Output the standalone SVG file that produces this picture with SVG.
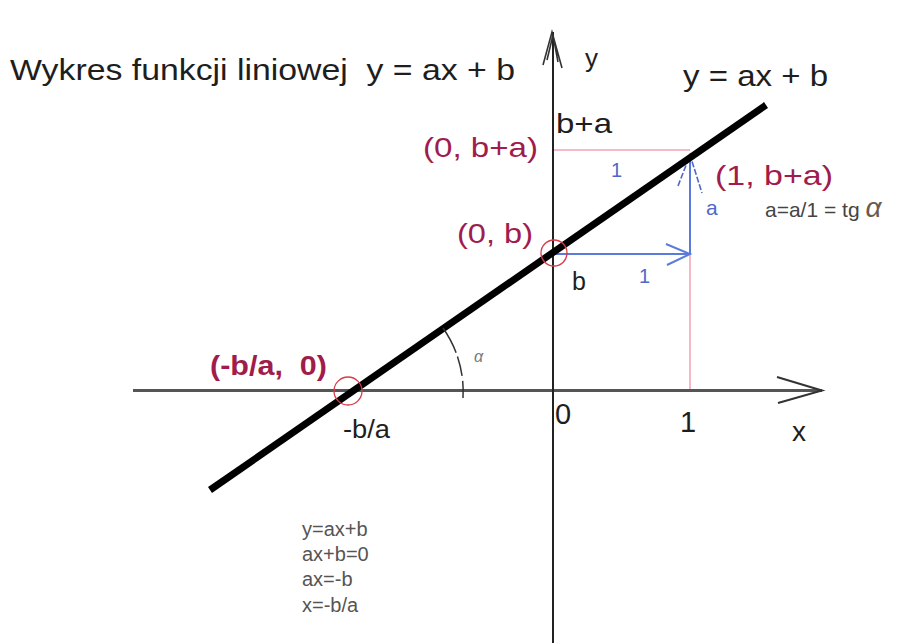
<svg xmlns="http://www.w3.org/2000/svg" width="908" height="643" viewBox="0 0 908 643">
<style>
text{font-family:"Liberation Sans",Arial,sans-serif}
.blk{fill:#1e1e1e}
.red{fill:#a01c4c}
.blue{fill:#4d68c8}
.grey{fill:#555}
.pink{stroke:#f2a3b3;stroke-width:1.5;fill:none}
.bl{stroke:#5b7bdc;stroke-width:2;fill:none}
.circ{stroke:#d83a4a;stroke-width:1.3;fill:none}
</style>
<rect width="908" height="643" fill="#fff"/>
<g id="guides">
<path class="pink" d="M553 150H690M690 254V390"/>
</g>
<g id="axes">
<path d="M133 390.5H822" stroke="#555" stroke-width="3" fill="none"/>
<path d="M777 377L822 390.5L778 403" stroke="#333" stroke-width="2" fill="none"/>
<path d="M553 643V32" stroke="#222" stroke-width="2" fill="none"/>
<path d="M543 65L552 32L562 68M547 60L553 35L558 62" stroke="#333" stroke-width="1.6" fill="none"/>
</g>
<g id="connectors">
<path class="bl" d="M553 254H690"/>
<path class="bl" d="M666 244L690 254L667 265"/>
<path class="bl" d="M690 254V155"/>
<path d="M678 186L690 155L702 193" stroke="#4d68c8" stroke-width="1.6" fill="none" stroke-dasharray="6 2"/>
</g>
<g id="line">
<path d="M210 490L766 105" stroke="#000" stroke-width="7" fill="none"/>
</g>
<g id="angle">
<path d="M443 328A110 110 0 0 1 463 398" stroke="#333" stroke-width="1.5" fill="none" stroke-dasharray="28 4 20 5"/>
<text x="474" y="362" font-size="16" font-style="italic" fill="#777">α</text>
</g>
<g id="pt-zero">
<circle class="circ" cx="348" cy="391" r="14"/>
<text class="red" x="210" y="375" font-size="28" font-weight="bold" textLength="117" lengthAdjust="spacingAndGlyphs" xml:space="preserve">(-b/a,  0)</text>
<text class="blk" x="343" y="438" font-size="26" textLength="47" lengthAdjust="spacingAndGlyphs">-b/a</text>
</g>
<g id="pt-b">
<circle class="circ" cx="554" cy="253" r="13"/>
<text class="red" x="457" y="243" font-size="28" textLength="76" lengthAdjust="spacingAndGlyphs">(0, b)</text>
<text class="blk" x="572" y="290" font-size="25">b</text>
</g>
<g id="pt-ba">
<text class="red" x="423" y="157" font-size="28" textLength="115" lengthAdjust="spacingAndGlyphs">(0, b+a)</text>
<text class="red" x="715" y="185" font-size="28" textLength="118" lengthAdjust="spacingAndGlyphs">(1, b+a)</text>
<text class="blk" x="556" y="133" font-size="28" textLength="56" lengthAdjust="spacingAndGlyphs">b+a</text>
</g>
<g id="labels">
<text class="blk" x="10" y="80" font-size="30" textLength="505" lengthAdjust="spacingAndGlyphs" xml:space="preserve">Wykres funkcji liniowej  y = ax + b</text>
<text class="blk" x="585" y="67" font-size="26">y</text>
<text class="blk" x="683" y="86" font-size="29" textLength="145" lengthAdjust="spacingAndGlyphs">y = ax + b</text>
<text class="blue" x="611" y="177" font-size="20">1</text>
<text class="blue" x="639" y="283" font-size="20">1</text>
<text class="blue" x="706" y="215" font-size="21">a</text>
<text fill="#444" x="765" y="217" font-size="21">a=a/1 = tg <tspan font-size="28" font-style="italic" fill="#6b5a50">α</tspan></text>
<text class="blk" x="555" y="424" font-size="29">0</text>
<text class="blk" x="680" y="432" font-size="29">1</text>
<text class="blk" x="792" y="441" font-size="28">x</text>
</g>
<g id="solution" class="grey" font-size="20">
<text x="302" y="536">y=ax+b</text>
<text x="302" y="561">ax+b=0</text>
<text x="302" y="586">ax=-b</text>
<text x="302" y="612">x=-b/a</text>
</g>
</svg>
